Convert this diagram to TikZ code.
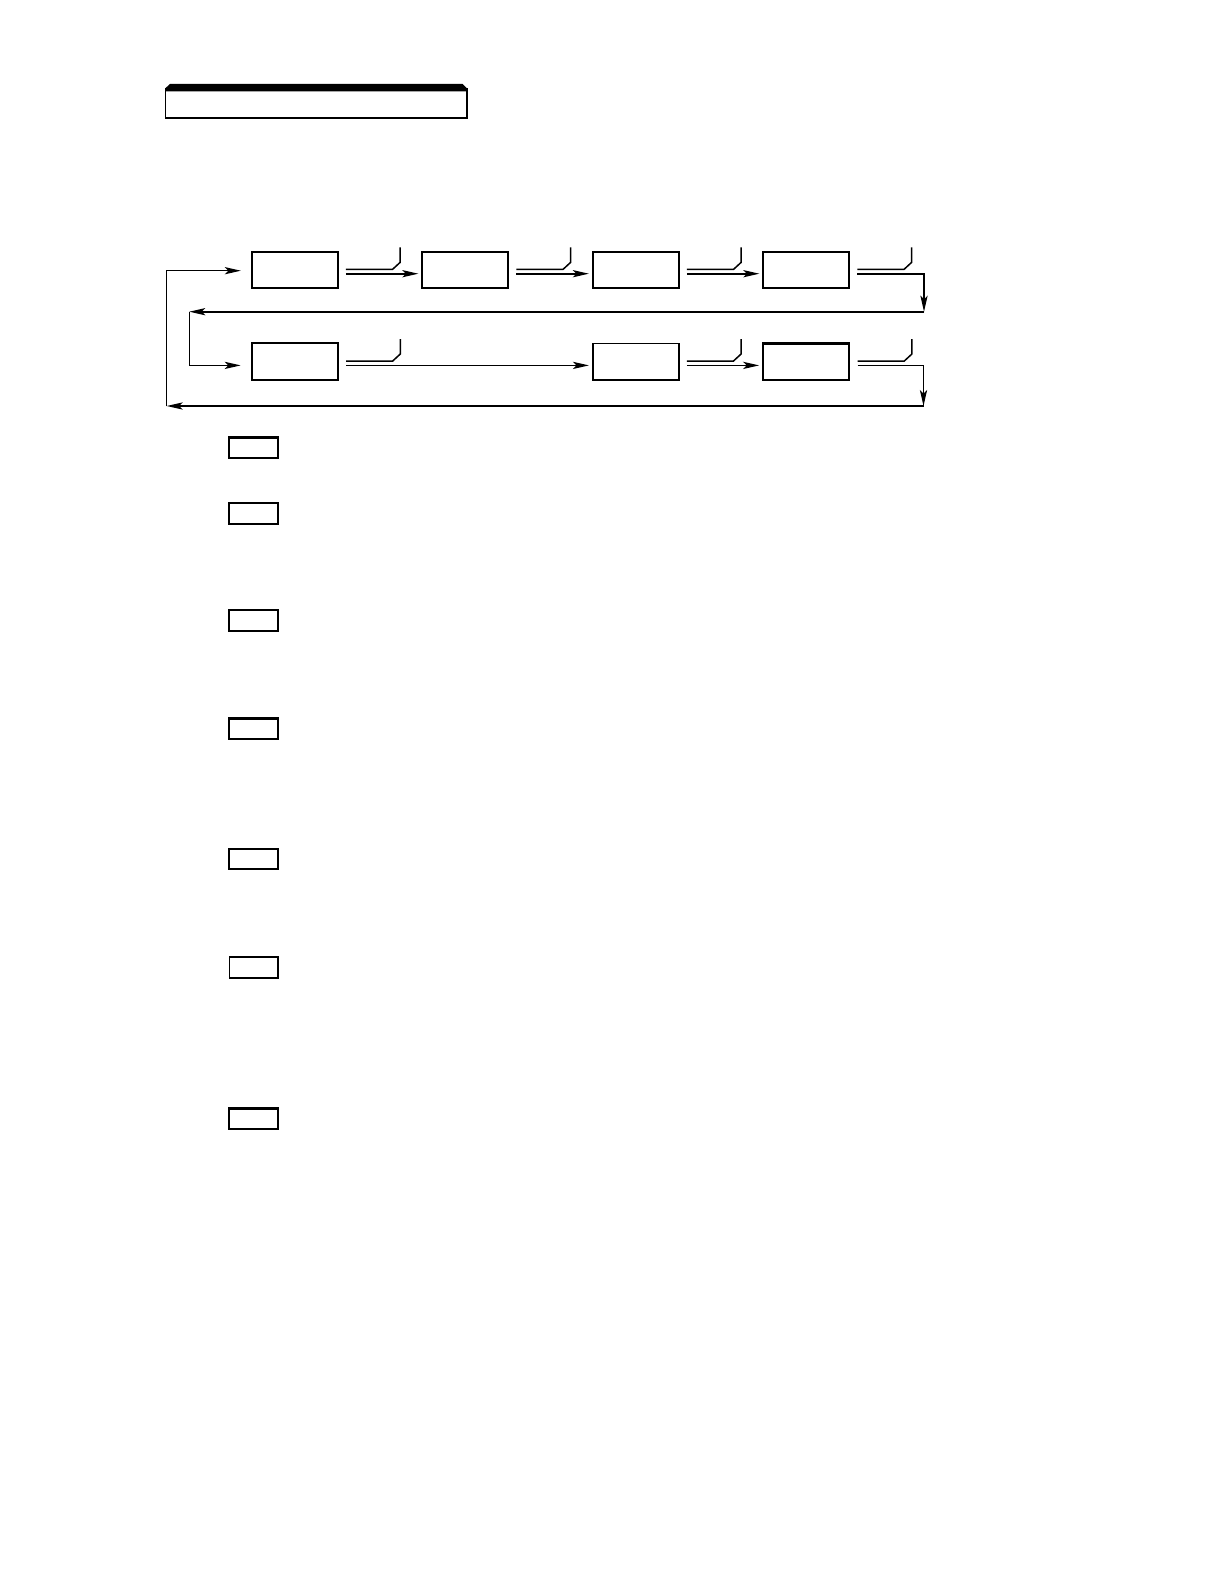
\documentclass[tikz,border=0pt]{standalone}
\usetikzlibrary{arrows.meta,calc,positioning}
\tikzstyle{arrow} = [line width=0.8pt,->,>={Stealth[length=8pt,width=3.6pt,inset=1.8pt]}]

\begin{document}
\begin{tikzpicture}[x=0.5pt, y=-0.5pt,
    stage/.style={rectangle, draw, line width=0.9pt, minimum width=43pt, minimum height=18.3pt, inner sep=0pt},
    key/.style={rectangle, draw, line width=1.05pt, minimum width=24.2pt, minimum height=10.3pt, inner sep=0pt},
    wire/.style={line width=0.75pt},
    return/.style={arrow, line width=0.7pt}]

\useasboundingbox (0,0) rectangle (1224,1584);

% Title bar
\node[rectangle, minimum width=150.8pt, minimum height=17.1pt, inner sep=0pt] (title) at (316.2,101.2) {};
\draw[line width=0.8pt] (165.3,88.3) -- (165.3,118.3) -- (467,118.3) -- (467,88.3);
\fill (165.3,91.5) -- (165.3,88.3) -- (170,84) -- (462.7,84) -- (467,88.3) -- (467,91.5) -- cycle;

% First row
\node[stage] (a1) at (294.7,270) {};
\node[stage] (a2) at (465.2,270) {};
\node[stage] (a3) at (635.7,270) {};
\node[stage] (a4) at (806.2,270) {};

% Second row
\node[stage, line width=1pt] (b1) at (294.7,361.7) {};
\node[stage, line width=0.8pt] (b3) at (635.7,361.7) {};
\node[stage, line width=1.1pt] (b4) at (806.2,361.7) {};

% Turn points
\coordinate (r1) at (924,311.7);
\coordinate (l1) at (189.3,311.7);
\coordinate (r2) at (923.5,406);
\coordinate (l2) at (166.7,406);

% Switches
\draw[wire] ($(a1.east)+(7.3,-0.7)$) -- ++(46.7,0) -- ++(7.6,-7) -- ++(0,-15);
\draw[wire] ($(a2.east)+(7.3,-0.7)$) -- ++(46.7,0) -- ++(7.6,-7) -- ++(0,-15);
\draw[wire] ($(a3.east)+(7.3,-0.7)$) -- ++(46.7,0) -- ++(7.6,-7) -- ++(0,-15);
\draw[wire] ($(a4.east)+(7.3,-0.7)$) -- ++(46.7,0) -- ++(7.6,-7) -- ++(0,-15);
\draw[wire] ($(b1.east)+(7.3,-0.7)$) -- ++(46.7,0) -- ++(7.6,-7) -- ++(0,-15);
\draw[wire] ($(b3.east)+(7.3,-0.7)$) -- ++(46.7,0) -- ++(7.6,-7) -- ++(0,-15);
\draw[wire] ($(b4.east)+(7.3,-0.7)$) -- ++(46.7,0) -- ++(7.6,-7) -- ++(0,-15);

% Connections
\draw[arrow] ($(a1.east)+(7.3,3.7)$) -- ($(a2.west)+(-3,3.7)$);
\draw[arrow] ($(a2.east)+(7.3,3.7)$) -- ($(a3.west)+(-3,3.7)$);
\draw[arrow] ($(a3.east)+(7.3,3.7)$) -- ($(a4.west)+(-3,3.7)$);
\draw[arrow] ($(a4.east)+(7.3,3.7)$) -| (r1);
\draw[return, line width=0.85pt] (r1) -- (l1);
\draw[arrow] (l1) |- ($(b1.west)+(-10,3.7)$);

\draw[arrow, line width=0.7pt] ($(b1.east)+(7.3,3.7)$) -- ($(b3.west)+(-3,3.7)$);
\draw[arrow, line width=0.7pt] ($(b3.east)+(7.3,3.7)$) -- ($(b4.west)+(-3,3.7)$);
\draw[arrow] ($(b4.east)+(7.3,3.7)$) -| (r2);
\draw[return, line width=0.65pt] (r2) -- (l2);
\draw[arrow, line width=0.65pt] (l2) |- ($(a1.west)+(-10,0.7)$);

% Key boxes
\node[key] (k1) at (253.5,447.8) {};
\node[key] (k2) at (253.5,513.3) {};
\node[key] (k3) at (253.5,620.7) {};
\node[key] (k4) at (253.5,728.8) {};
\node[key] (k5) at (253.5,859.1) {};
\node[key, line width=0.8pt] (k6) at (253.5,967.5) {};
\node[key] (k7) at (253.5,1118.8) {};
\end{tikzpicture}
\end{document}
